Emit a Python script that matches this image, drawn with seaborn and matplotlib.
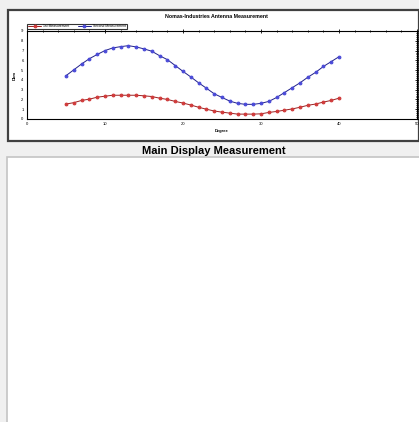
import matplotlib
matplotlib.use("Agg")
import matplotlib.pyplot as plt
import seaborn as sns
import pandas as pd
from matplotlib.patches import Rectangle
from matplotlib.ticker import MultipleLocator

# Data
degrees = list(range(5, 41))
first_measurement = [1.53, 1.67, 1.90, 2.03, 2.23, 2.33, 2.43, 2.43, 2.43, 2.43,
                     2.37, 2.30, 2.13, 2.00, 1.80, 1.63, 1.43, 1.20, 1.00, 0.82,
                     0.70, 0.60, 0.50, 0.50, 0.50, 0.53, 0.67, 0.77, 0.90, 1.03,
                     1.20, 1.40, 1.53, 1.73, 1.90, 2.13]
second_measurement = [4.43, 5.03, 5.63, 6.17, 6.60, 7.00, 7.27, 7.40, 7.50, 7.37,
                      7.17, 6.93, 6.47, 6.07, 5.47, 4.87, 4.30, 3.70, 3.15, 2.58,
                      2.20, 1.83, 1.60, 1.50, 1.50, 1.60, 1.80, 2.20, 2.70, 3.20,
                      3.70, 4.27, 4.77, 5.37, 5.87, 6.37]
series_names = ["1st Measurement", "Second Measurement"]

W, H = 419, 422

def fx(px):
    return px / W

def fy(py):
    return 1 - py / H

sns.set_theme(style="white")
plt.rcParams['font.family'] = ['Liberation Sans', 'DejaVu Sans']
plt.rcParams['text.color'] = 'black'
plt.rcParams['axes.labelcolor'] = 'black'
plt.rcParams['xtick.color'] = 'black'
plt.rcParams['ytick.color'] = 'black'

fig = plt.figure(figsize=(W / 100, H / 100), dpi=100)
fig.patch.set_facecolor('#f0f0f0')

# top chart panel
fig.add_artist(Rectangle((fx(7.5), fy(141)), fx(419) - fx(7.5), fy(10) - fy(141),
                         transform=fig.transFigure, facecolor='white',
                         edgecolor='#404040', linewidth=1.6, zorder=-5))
# lower display panel
fig.add_artist(Rectangle((fx(7), fy(423)), fx(420) - fx(7), fy(157) - fy(423),
                         transform=fig.transFigure, facecolor='white',
                         edgecolor='#c4c4c4', linewidth=1.2, zorder=-5))

ax = fig.add_axes([fx(27), fy(119), fx(417) - fx(27), fy(31) - fy(119)])
ax.set_facecolor('white')

df = pd.DataFrame({
    'Degree': degrees * 2,
    'Dbm': first_measurement + second_measurement,
    'Series': [series_names[0]] * len(degrees) + [series_names[1]] * len(degrees),
})

line_colors = {series_names[0]: '#9a2020', series_names[1]: '#20208a'}
marker_colors = {series_names[0]: '#d03a3a', series_names[1]: '#4a4ad8'}
for name in series_names:
    sub = df[df['Series'] == name]
    sns.lineplot(data=sub, x='Degree', y='Dbm', ax=ax, color=line_colors[name],
                 linewidth=0.7, marker='o', markersize=2.0,
                 markerfacecolor=marker_colors[name],
                 markeredgecolor=marker_colors[name], label=name)

ax.set_xlim(0, 50)
ax.set_ylim(0, 9)
ax.xaxis.set_major_locator(MultipleLocator(10))
ax.xaxis.set_minor_locator(MultipleLocator(2))
ax.yaxis.set_major_locator(MultipleLocator(1))
ax.yaxis.set_minor_locator(MultipleLocator(0.2))
ax.tick_params(which='both', direction='inout', top=True, right=True,
               labelsize=3, pad=1, width=0.6, color='black', labelcolor='black')
ax.tick_params(which='major', length=3)
ax.tick_params(which='minor', length=1.5)
for s in ax.spines.values():
    s.set_color('black')
    s.set_linewidth(0.8)
ax.set_xlabel('Degree', fontsize=3, fontweight='bold', labelpad=2)
ax.set_ylabel('Dbm', fontsize=3, fontweight='bold', labelpad=3)

leg = ax.legend(loc='lower left', bbox_to_anchor=(0.0, 1.02), ncol=2,
                fontsize=2.4, frameon=True, fancybox=False, borderpad=0.25,
                handlelength=4, columnspacing=2.5, handletextpad=0.6,
                borderaxespad=0)
leg.get_frame().set_edgecolor('black')
leg.get_frame().set_linewidth(0.8)

fig.text(fx(216), fy(17), 'Nomas-Industries Antenna Measurement', fontsize=3.8,
         fontweight='bold', ha='center', va='center', color='black')
fig.text(fx(214), fy(151), 'Main Display Measurement', fontsize=8.0,
         fontweight='bold', ha='center', va='center', color='black',
         family=['Liberation Sans Narrow', 'Liberation Sans', 'DejaVu Sans'])

fig.savefig('out.png', dpi=100, facecolor=fig.get_facecolor())
